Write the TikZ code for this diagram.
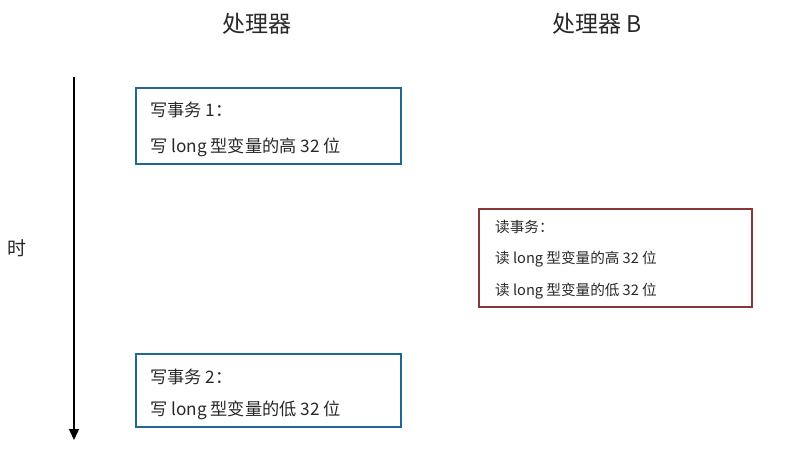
\documentclass[tikz,border=0pt]{standalone}
\usepackage{fontspec}
\setmainfont{Noto Sans CJK SC}
\usetikzlibrary{arrows.meta}
\definecolor{wblue}{RGB}{31,104,146}
\definecolor{rred}{RGB}{135,55,55}
\definecolor{txt}{RGB}{40,40,40}
\tikzset{
  wbox/.style={draw=wblue, line width=2.4pt, minimum width=265pt, minimum height=76pt, inner sep=0pt},
  rbox/.style={draw=rred, line width=2.4pt, minimum width=273pt, minimum height=98pt, inner sep=0pt},
  ttl/.style={font=\fontsize{23}{26}\selectfont, text=txt, anchor=center},
  wtxt/.style={font=\fontsize{17.2}{20}\selectfont, text=txt, anchor=west, inner sep=0pt},
  rtxt/.style={font=\fontsize{14.6}{17}\selectfont, text=txt, anchor=west, inner sep=0pt},
}
\begin{document}
\begin{tikzpicture}[x=1pt,y=-1pt]
\useasboundingbox (0,0) rectangle (796,458);
\node[ttl] (t1) at (257,24) {处理器};
\node[ttl] (t2) at (597,24) {处理器 B};
\node[font=\fontsize{19}{22}\selectfont, text=txt] (shi) at (17,248) {时};
\coordinate (a0) at (74,77);
\coordinate (a1) at (74,440);
\draw[line width=1.5pt, -{Triangle[length=11pt,width=10pt]}] (a0) -- (a1);
\node[wbox] (w1) at (268.5,126) {};
\node[wtxt] (w1a) at (150,110) {写事务 1：};
\node[wtxt] (w1b) at (150,147) {写 long 型变量的高 32 位};
\node[wbox, minimum height=73pt] (w2) at (268.5,390.5) {};
\node[wtxt] (w2a) at (150,377) {写事务 2：};
\node[wtxt] (w2b) at (150,410) {写 long 型变量的低 32 位};
\node[rbox] (r1) at (615.5,258) {};
\node[rtxt] (r1a) at (495,227) {读事务：};
\node[rtxt] (r1b) at (495,259) {读 long 型变量的高 32 位};
\node[rtxt] (r1c) at (495,291) {读 long 型变量的低 32 位};
\end{tikzpicture}
\end{document}
